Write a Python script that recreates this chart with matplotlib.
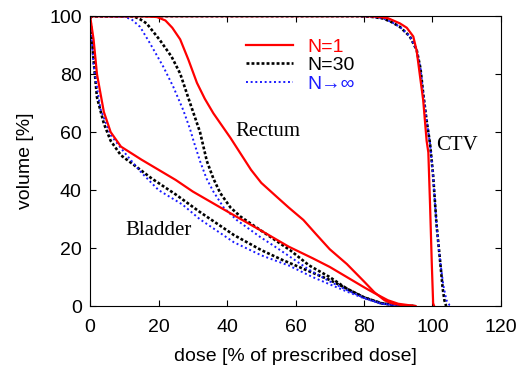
import matplotlib
matplotlib.use('agg')
import matplotlib.pyplot as plt

# dose-volume histograms
# rectum
rectum_n1_dose = [0, 15, 19.5, 22, 24, 26.3, 28.7, 31.2, 33.5, 36, 41, 44, 47, 50, 54.5, 58, 62.3, 66, 70, 75, 80, 83, 86, 88, 91, 95]
rectum_n1_vol = [100, 100, 99.7, 98.5, 96, 92, 85, 77, 71.5, 66.5, 58, 52.5, 47, 42.5, 37.7, 34, 29.7, 24.8, 19.6, 14.5, 8.5, 4.8, 2, 1, 0.3, 0]
rectum_n30_dose = [0, 12.6, 14.5, 16.5, 20.4, 23.8, 26.3, 29.2, 32.1, 34.1, 36, 38, 41, 44, 49.6, 55, 58.4, 64, 70, 75, 80, 85, 90, 95]
rectum_n30_vol = [100, 100, 99, 97.5, 91.7, 86, 80.2, 70, 60, 50, 44, 39, 34, 30.8, 26.3, 22, 19.3, 14, 10, 6, 3, 1, 0.2, 0]
rectum_inf_dose = [0, 9.7, 12, 14.6, 17.5, 21.4, 24.3, 27.2, 29.2, 30.2, 32.1, 34, 36, 39, 42.8, 49.6, 54, 58.4, 64, 70, 75, 80, 85, 90, 95]
rectum_inf_vol = [100, 99.8, 99, 96.3, 90.6, 82.5, 75.6, 67.6, 61, 57, 50, 44, 39.5, 34, 29.7, 23.9, 20.5, 17, 12.5, 8.5, 5.5, 2.8, 0.9, 0.2, 0]

# bladder
bladder_n1_dose = [0, 1, 2, 4, 6, 9, 15, 20, 25, 30, 41, 50, 58, 65, 70, 75, 80, 83, 87, 90, 95]
bladder_n1_vol = [100, 92, 80, 67, 60, 55, 50.5, 47, 43.5, 39.5, 32, 26, 20.5, 16.5, 13.5, 10, 6.5, 4.5, 2, 0.8, 0]
bladder_n30_dose = [0, 1, 2, 4, 6, 9, 13, 18, 25, 32, 42, 50, 56, 63, 70, 75, 80, 85, 90, 95]
bladder_n30_vol = [100, 85, 72, 63, 57, 52, 48.5, 44, 38.5, 32.5, 24.5, 19.3, 16, 12.5, 9, 6, 3, 1, 0.2, 0]
bladder_inf_dose = [0, 1, 3, 6, 10, 15, 20, 27, 32, 42, 50, 58, 65, 70, 75, 80, 85, 90, 95]
bladder_inf_vol = [100, 83, 68, 59, 53, 46, 40, 35, 30, 22, 17.5, 14, 10, 7.5, 5, 2.7, 0.8, 0.1, 0]

# CTV
ctv_n1_dose = [0, 80, 84, 87, 90.5, 92.5, 94.4, 95.4, 96.4, 97.3, 98.3, 98.8, 99.3, 99.8, 100.2, 100.5]
ctv_n1_vol = [100, 100, 99.8, 99.3, 97.5, 96, 93, 88, 79, 71, 57, 53, 35, 15, 1, 0]
ctv_n30_dose = [0, 78, 82, 85.6, 88, 90.5, 93.4, 95.4, 96.5, 97.3, 98.3, 99.3, 100.2, 101.2, 102.2, 103, 103.5, 104]
ctv_n30_vol = [100, 100, 99.8, 99.2, 98, 96.3, 93, 88.3, 82, 73.3, 64, 56, 45, 28, 16, 6, 2, 0]
ctv_inf_dose = [0, 78, 82, 85.6, 88, 90.5, 93.4, 95.4, 96.5, 97.3, 98.3, 99.3, 100.2, 101.2, 102.2, 103.2, 104.1, 105, 105.5]
ctv_inf_vol = [100, 100, 99.8, 99.2, 98, 96.3, 93, 88.3, 82, 73.3, 64, 56, 45, 28, 16, 7, 2, 0.3, 0]

plt.rcParams['font.family'] = ['Liberation Sans', 'DejaVu Sans']
plt.rcParams['font.size'] = 14

fig = plt.figure(figsize=(5.18, 3.67), dpi=100)
ax = fig.add_axes([0.174, 0.166, 0.793, 0.790])

red = dict(color='#ff0000', lw=1.6, linestyle='-')
black = dict(color='black', lw=1.9, linestyle=(0, (1.1, 0.8)))
blue = dict(color='#1a1aff', lw=1.4, linestyle=(0, (1, 1.4)))

# black first, blue over it, red on top
ax.plot(rectum_n30_dose, rectum_n30_vol, **black)
ax.plot(bladder_n30_dose, bladder_n30_vol, **black)
ax.plot(ctv_n30_dose, ctv_n30_vol, **black)
ax.plot(rectum_inf_dose, rectum_inf_vol, **blue)
ax.plot(bladder_inf_dose, bladder_inf_vol, **blue)
ax.plot(ctv_inf_dose, ctv_inf_vol, **blue)
ax.plot(rectum_n1_dose, rectum_n1_vol, **red)
ax.plot(bladder_n1_dose, bladder_n1_vol, **red)
ax.plot(ctv_n1_dose, ctv_n1_vol, **red)

h1, = ax.plot([], [], label='N=1', **red)
h2, = ax.plot([], [], label='N=30', **black)
h3, = ax.plot([], [], label='N\u2192\u221e', **blue)
ax.legend(handles=[h1, h2, h3], loc='upper left', bbox_to_anchor=(0.38, 0.925),
          frameon=False, handlelength=2.4, handletextpad=0.75, labelspacing=0.05,
          borderpad=0, borderaxespad=0, labelcolor='linecolor', fontsize=14)

serif = ['Liberation Serif', 'DejaVu Serif']
ax.text(42.3, 60.3, 'Rectum', family=serif, fontsize=15, va='center')
ax.text(10.2, 26.2, 'Bladder', family=serif, fontsize=15, va='center')
ax.text(101, 55.5, 'CTV', family=serif, fontsize=15, va='center')

ax.set_xlim(0, 120)
ax.set_ylim(0, 100)
ax.set_xticks(range(0, 121, 20))
ax.set_yticks(range(0, 101, 20))
ax.tick_params(direction='in', top=True, right=True, length=4, width=0.8)
ax.tick_params(axis='x', pad=9)
ax.tick_params(axis='y', pad=6)
ax.set_xlabel('dose [% of prescribed dose]', labelpad=9)
ax.set_ylabel('volume [%]', labelpad=11)

plt.savefig('out.png', dpi=100)
